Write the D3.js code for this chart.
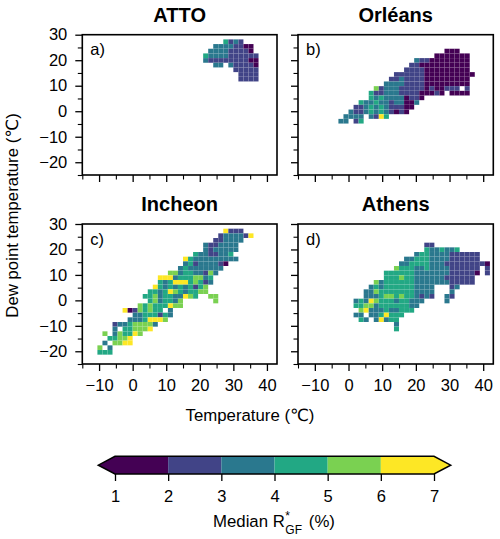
<!DOCTYPE html>
<html><head><meta charset="utf-8">
<script src="https://d3js.org/d3.v7.min.js"></script>
<style>html,body{margin:0;padding:0;background:#fff}svg{display:block}text{font-family:"Liberation Sans","DejaVu Sans",sans-serif;fill:#000}</style>
</head><body><div id="c"></div>
<script>
// each row: [dew-point bin index, first temperature bin index, median band per cell ("." = no data)]
// band digit d means a median between d and d+1 (%)
const attoRows = [
[28,18,"4232"],[27,16,"33332211"],[26,15,"333322221"],[25,14,"43333222222"],[24,14,"32222222211"],
[23,16,"33.322221"],[22,20,"22222"],[21,21,"2222"],[20,21,"2222"]];
const orleansRows = [
[26,19,"111"],[25,17,"1111111"],[24,13,"32211111111"],[23,12,"221111111111"],[22,11,"2222111111111"],
[21,9,"2222221111111111"],[20,8,"2232222111111111"],[19,7,"33332222111111111"],
[18,5,"52333222221211222.2"],[17,4,"422333222211121.1111"],[16,4,"43433331221"],
[15,2,"433433233113"],[14,1,"223434322211"],[13,0,"322343432121"],[12,-1,"3333.3264"],[11,-2,"33.24"]];
const incheonRows = [
[28,18,"6222"],[27,17,"2333326"],[26,16,"223333"],[25,14,"3223333"],[24,14,"3233333"],
[23,12,"43322334"],[22,10,"64333333333"],[21,10,"342333321"],[20,9,"343333333"],
[19,7,"5534433253"],[18,5,"66634445534"],[17,5,"43466645423"],
[16,4,"64343434245"],[15,3,"443465434455"],[14,2,"44534433654..55"],[13,3,"4534435......5"],
[12,1,"545444655"],[11,-2,"61254544.3"],[10,0,"33444243"],[9,-1,"33346665"],
[8,-4,"233455553"],[7,-4,"3.445556"],[6,-6,"5.354465"],[5,-5,"44556"],[4,-6,"3.5566"],[3,-7,"5.3"],[2,-7,"444"]];
const athensRows = [
[25,15,"22"],[24,15,"4334334"],[23,13,"3443333222222"],[22,11,"334443333222222"],
[21,10,"334444333222222221"],[20,9,"54443343333222222.2"],[19,7,"4444443333333222221.2"],
[18,7,"444544333333222222"],[17,5,"53444444333333322222"],
[16,4,"3434444443333...23"],[15,3,"33544444443333...3"],[14,3,"33345545443232..32"],
[13,1,"34365444344333....3"],[12,1,"4455344444433"],[11,2,"56333433444"],[10,1,"33.3346444"],
[9,2,"43.36344"],[8,9,"3"],[7,9,"4"]];
const panelTitles = ["ATTO","Orléans","Incheon","Athens"];
const panelLetters = ["a)","b)","c)","d)"];
const xMajor = [-10,0,10,20,30,40];
const xMinor = [-15,-5,5,15,25,35];
const yMajor = [-20,-10,0,10,20,30];
const yMinor = [-25,-15,-5,5,15,25];
const bandEdges = [1,2,3,4,5,6,7];
const bandColors = ["#440154","#414487","#2a788e","#22a884","#7ad151","#fde725"];

const W=500,H=539,FS=16.5;
const svg=d3.select("#c").append("svg").attr("width",W).attr("height",H).attr("viewBox",`0 0 ${W} ${H}`);
const color=d3.scaleThreshold().domain(bandEdges.slice(1,-1)).range(bandColors);
const tBin=1.5, dBin=55/30;
const panels=[
 {rows:attoRows,x:[82.3,277],y:[34.7,175],t:0,lx:false,ly:true},
 {rows:orleansRows,x:[298,493.3],y:[34.7,175],t:1,lx:false,ly:false},
 {rows:incheonRows,x:[82.3,277],y:[224,364],t:2,lx:true,ly:true},
 {rows:athensRows,x:[298,493.3],y:[224,364],t:3,lx:true,ly:false}];
const fmt=d=>String(d).replace("-","\u2212");

panels.forEach(p=>{
 const x=d3.scaleLinear().domain([-15,43]).range(p.x);
 const y=d3.scaleLinear().domain([-25,30]).range([p.y[1],p.y[0]]);
 const g=svg.append("g");
 const cells=[];
 p.rows.forEach(([k,i0,s])=>{[...s].forEach((c,j)=>{ if(c!==".") cells.push({t:(i0+j)*tBin,d:-25+k*dBin,v:+c+0.5}); });});
 g.selectAll("rect.cell").data(cells).join("rect").attr("class","cell")
  .attr("x",d=>x(d.t)).attr("width",d=>x(d.t+tBin)-x(d.t))
  .attr("y",d=>y(d.d+dBin)).attr("height",d=>y(d.d)-y(d.d+dBin))
  .attr("fill",d=>color(d.v)).attr("stroke","#fff").attr("stroke-opacity",0.1).attr("stroke-width",0.3);
 const style=(a,lw)=>{a.select(".domain").remove();a.selectAll(".tick line").attr("stroke","#000").attr("stroke-width",lw);a.selectAll("text").attr("font-size",FS).attr("fill","#000");};
 const bx=g.append("g").attr("transform",`translate(0,${p.y[1]})`)
   .call(d3.axisBottom(x).tickValues(xMajor).tickSize(7).tickPadding(8.5).tickFormat(p.lx?fmt:""));
 style(bx,1.3);
 const bm=g.append("g").attr("transform",`translate(0,${p.y[1]})`)
   .call(d3.axisBottom(x).tickValues(xMinor).tickSize(4.5).tickFormat(""));
 style(bm,1.1);
 const ly=g.append("g").attr("transform",`translate(${p.x[0]},0)`)
   .call(d3.axisLeft(y).tickValues(yMajor).tickSize(7).tickPadding(8).tickFormat(p.ly?fmt:""));
 style(ly,1.3);
 const lm=g.append("g").attr("transform",`translate(${p.x[0]},0)`)
   .call(d3.axisLeft(y).tickValues(yMinor).tickSize(4.5).tickFormat(""));
 style(lm,1.1);
 g.append("rect").attr("x",p.x[0]).attr("y",p.y[0]).attr("width",p.x[1]-p.x[0]).attr("height",p.y[1]-p.y[0])
  .attr("fill","none").attr("stroke","#000").attr("stroke-width",1.6);
 g.append("text").attr("x",(p.x[0]+p.x[1])/2).attr("y",p.y[0]-13).attr("text-anchor","middle")
  .attr("font-size",20).attr("font-weight","bold").text(panelTitles[p.t]);
 g.append("text").attr("x",p.x[0]+8).attr("y",p.y[0]+20.5).attr("font-size",FS).text(panelLetters[p.t]);
});

svg.append("text").attr("transform","translate(18,215.5) rotate(-90)").attr("text-anchor","middle").attr("font-size",16.8).text("Dew point temperature (℃)");
svg.append("text").attr("x",250).attr("y",421).attr("text-anchor","middle").attr("font-size",16.8).text("Temperature (℃)");

// colour bar
const cx=d3.scaleLinear().domain([1,7]).range([115,434]);
const cb=svg.append("g");
const cTop=456.3,cBot=474,cMid=(cTop+cBot)/2;
cb.selectAll("rect").data(bandColors).join("rect")
 .attr("x",(d,i)=>cx(bandEdges[i])).attr("width",(d,i)=>cx(bandEdges[i+1])-cx(bandEdges[i]))
 .attr("y",cTop).attr("height",cBot-cTop).attr("fill",d=>d);
const tip=16.7;
cb.append("path").attr("d",`M${cx(1)},${cTop}L${cx(1)-tip},${cMid}L${cx(1)},${cBot}Z`).attr("fill",bandColors[0]);
cb.append("path").attr("d",`M${cx(7)},${cTop}L${cx(7)+tip},${cMid}L${cx(7)},${cBot}Z`).attr("fill",bandColors[5]);
cb.append("path").attr("d",`M${cx(1)},${cTop}L${cx(7)},${cTop}L${cx(7)+tip},${cMid}L${cx(7)},${cBot}L${cx(1)},${cBot}L${cx(1)-tip},${cMid}Z`)
 .attr("fill","none").attr("stroke","#000").attr("stroke-width",1.5);
const ca=cb.append("g").attr("transform",`translate(0,${cBot})`).call(d3.axisBottom(cx).tickValues(bandEdges).tickSize(7).tickPadding(9).tickFormat(d3.format("d")));
ca.select(".domain").remove();ca.selectAll(".tick line").attr("stroke","#000").attr("stroke-width",1.3);ca.selectAll("text").attr("font-size",FS).attr("fill","#000");
// separate texts so the sub/superscript can stack above one another
const titleLeft=213;
const t1=svg.append("text").attr("x",titleLeft).attr("y",527).attr("font-size",16.8).text("Median R");
const w1=t1.node().getComputedTextLength();
svg.append("text").attr("x",titleLeft+w1+0.5).attr("y",519.5).attr("font-size",12).text("*");
svg.append("text").attr("x",titleLeft+w1+0.5).attr("y",534).attr("font-size",12).text("GF");
svg.append("text").attr("x",titleLeft+w1+24).attr("y",527).attr("font-size",16.8).text("(%)");
</script></body></html>
